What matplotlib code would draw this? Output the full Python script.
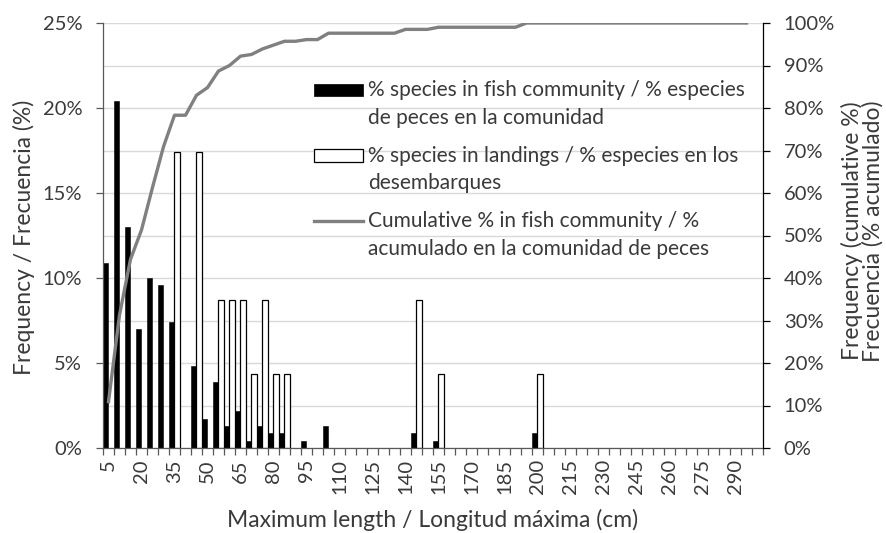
import numpy as np
import matplotlib
matplotlib.use("Agg")
import matplotlib.pyplot as plt
from matplotlib.ticker import MultipleLocator, FuncFormatter
from matplotlib.patches import Rectangle
from matplotlib.lines import Line2D

plt.rcParams['font.family'] = ['Lato', 'DejaVu Sans']

# Maximum-length classes (cm)
length_classes = list(range(5, 305, 5))

# % of species in the fish community per length class
community_pct = [10.9, 20.4, 13.0, 7.0, 10.0, 9.6, 7.4, 0.0, 4.8, 1.7,
                 3.9, 1.3, 2.2, 0.4, 1.3, 0.9, 0.9, 0.0, 0.4, 0.0,
                 1.3, 0.0, 0.0, 0.0, 0.0, 0.0, 0.0, 0.0, 0.9, 0.0,
                 0.4, 0.0, 0.0, 0.0, 0.0, 0.0, 0.0, 0.0, 0.0, 0.9,
                 0.0, 0.0, 0.0, 0.0, 0.0, 0.0, 0.0, 0.0, 0.0, 0.0,
                 0.0, 0.0, 0.0, 0.0, 0.0, 0.0, 0.0, 0.0, 0.0, 0.0]

# % of species in landings per length class
landings_pct = [0.0, 0.0, 0.0, 0.0, 0.0, 0.0, 17.39, 0.0, 17.39, 0.0,
                8.70, 8.70, 8.70, 4.35, 8.70, 4.35, 4.35, 0.0, 0.0, 0.0,
                0.0, 0.0, 0.0, 0.0, 0.0, 0.0, 0.0, 0.0, 8.70, 0.0,
                4.35, 0.0, 0.0, 0.0, 0.0, 0.0, 0.0, 0.0, 0.0, 4.35,
                0.0, 0.0, 0.0, 0.0, 0.0, 0.0, 0.0, 0.0, 0.0, 0.0,
                0.0, 0.0, 0.0, 0.0, 0.0, 0.0, 0.0, 0.0, 0.0, 0.0]

# Cumulative % in the fish community (classes 5 to 295 cm)
cumulative_pct = [10.9, 31.3, 44.4, 51.3, 61.3, 70.9, 78.3, 78.3, 83.0, 84.8,
                  88.7, 90.0, 92.2, 92.6, 93.9, 94.8, 95.7, 95.7, 96.1, 96.1,
                  97.6, 97.6, 97.6, 97.6, 97.6, 97.6, 97.6, 98.5, 98.5, 98.5,
                  99.0, 99.0, 99.0, 99.0, 99.0, 99.0, 99.0, 99.0, 100.0, 100.0,
                  100.0, 100.0, 100.0, 100.0, 100.0, 100.0, 100.0, 100.0, 100.0, 100.0,
                  100.0, 100.0, 100.0, 100.0, 100.0, 100.0, 100.0, 100.0, 100.0]

TEXT = '#3a3a3a'
AXIS = '#595959'
W, H = 887, 533
AX_L, AX_R, AX_T, AX_B = 103, 763, 23, 448

TICK_FS = 14.5
LABEL_FS = 16.5
LEGEND_FS = 15

fig = plt.figure(figsize=(W / 100, H / 100), dpi=100)
ax = fig.add_axes([AX_L / W, 1 - AX_B / H, (AX_R - AX_L) / W, (AX_B - AX_T) / H])


def axes_x(px):
    return (px - AX_L) / (AX_R - AX_L)


def axes_y(py):
    return (AX_B - py) / (AX_B - AX_T)


x = np.arange(len(length_classes))
comm = np.array(community_pct)
land = np.array(landings_pct)
mc = comm > 0
ml = land > 0
ax.bar(x[mc] - 0.25, comm[mc], width=0.5, color='black', edgecolor='black',
       linewidth=0.4, zorder=2)
ax.bar(x[ml] + 0.25, land[ml], width=0.5, color='white', edgecolor='black',
       linewidth=0.9, zorder=2)

ax.set_xlim(-0.5, len(length_classes) - 0.5)
ax.set_ylim(0, 25)

# x axis: tick marks at class boundaries, labels every third class
ax.set_xticks(np.arange(-0.5, len(length_classes), 1.0))
ax.set_xticklabels([])
ax.tick_params(axis='x', which='major', length=5, width=0.9, color=AXIS, direction='out')
lab_idx = np.arange(0, len(length_classes), 3)
ax.set_xticks(lab_idx, minor=True)
ax.set_xticklabels([str(length_classes[i]) for i in lab_idx], minor=True,
                   rotation=90, fontsize=TICK_FS, color=TEXT)
ax.tick_params(axis='x', which='minor', length=0, pad=8)

# left y axis
ax.yaxis.set_major_locator(MultipleLocator(5))
ax.yaxis.set_minor_locator(MultipleLocator(2.5))
ax.yaxis.set_major_formatter(FuncFormatter(lambda v, p: f"{v:.0f}%"))
ax.tick_params(axis='y', which='major', length=5, width=0.9, color=AXIS,
               labelsize=TICK_FS, labelcolor=TEXT, pad=10)
ax.tick_params(axis='y', which='minor', length=0)
ax.grid(axis='y', which='both', color='#d9d9d9', linewidth=1.0, zorder=0)
ax.set_axisbelow(True)

for s in ['top', 'right']:
    ax.spines[s].set_visible(False)
for s in ['left', 'bottom']:
    ax.spines[s].set_color(AXIS)
    ax.spines[s].set_linewidth(0.9)

ax.set_ylabel('Frequency / Frecuencia (%)', fontsize=LABEL_FS, color=TEXT)
ax.yaxis.set_label_coords(axes_x(24), axes_y(237))
ax.yaxis.label.set_va('center')
ax.set_xlabel('Maximum length / Longitud máxima (cm)', fontsize=LABEL_FS, color=TEXT)
ax.xaxis.set_label_coords(0.5, axes_y(520))
ax.xaxis.label.set_va('center')

# right y axis with cumulative line
ax2 = ax.twinx()
ax2.plot(x[:len(cumulative_pct)], cumulative_pct, color='#808080', linewidth=2.4,
         solid_joinstyle='round')
ax2.set_ylim(0, 100)
ax2.yaxis.set_major_locator(MultipleLocator(10))
ax2.yaxis.set_major_formatter(FuncFormatter(lambda v, p: f"{v:.0f}%"))
ax2.tick_params(axis='y', length=5, width=0.9, color='black', labelsize=TICK_FS,
                labelcolor=TEXT, pad=10)
for s in ['top', 'left', 'bottom']:
    ax2.spines[s].set_visible(False)
ax2.spines['right'].set_color('black')
ax2.spines['right'].set_linewidth(0.9)
ax2.set_ylabel('Frequency (cumulative %)\nFrecuencia (% acumulado)', fontsize=LABEL_FS,
               color=TEXT, linespacing=0.95)
ax2.yaxis.set_label_coords(axes_x(862), axes_y(231))
ax2.yaxis.label.set_va('center')


# legend, with each key aligned to the first line of its label
def fx(px):
    return px / W


def fy(py):
    return 1 - py / H


fig.patches.append(Rectangle((fx(314), fy(96)), fx(363) - fx(314), fy(84) - fy(96),
                             transform=fig.transFigure, facecolor='black',
                             edgecolor='black', linewidth=0.5))
fig.patches.append(Rectangle((fx(314), fy(162)), fx(363) - fx(314), fy(149) - fy(162),
                             transform=fig.transFigure, facecolor='white',
                             edgecolor='black', linewidth=0.9))
fig.lines.append(Line2D([fx(314), fx(363)], [fy(221), fy(221)], transform=fig.transFigure,
                        color='#808080', linewidth=2.4))

legend_lines = [
    ('% species in fish community / % especies', 90.5),
    ('de peces en la comunidad', 118),
    ('% species in landings / % especies en los', 156),
    ('desembarques', 183),
    ('Cumulative % in fish community / %', 221),
    ('acumulado en la comunidad de peces', 249),
]
for txt, py in legend_lines:
    fig.text(fx(368), fy(py), txt, fontsize=LEGEND_FS, color=TEXT, ha='left', va='center')

fig.savefig('out.png', dpi=100, facecolor='white')
